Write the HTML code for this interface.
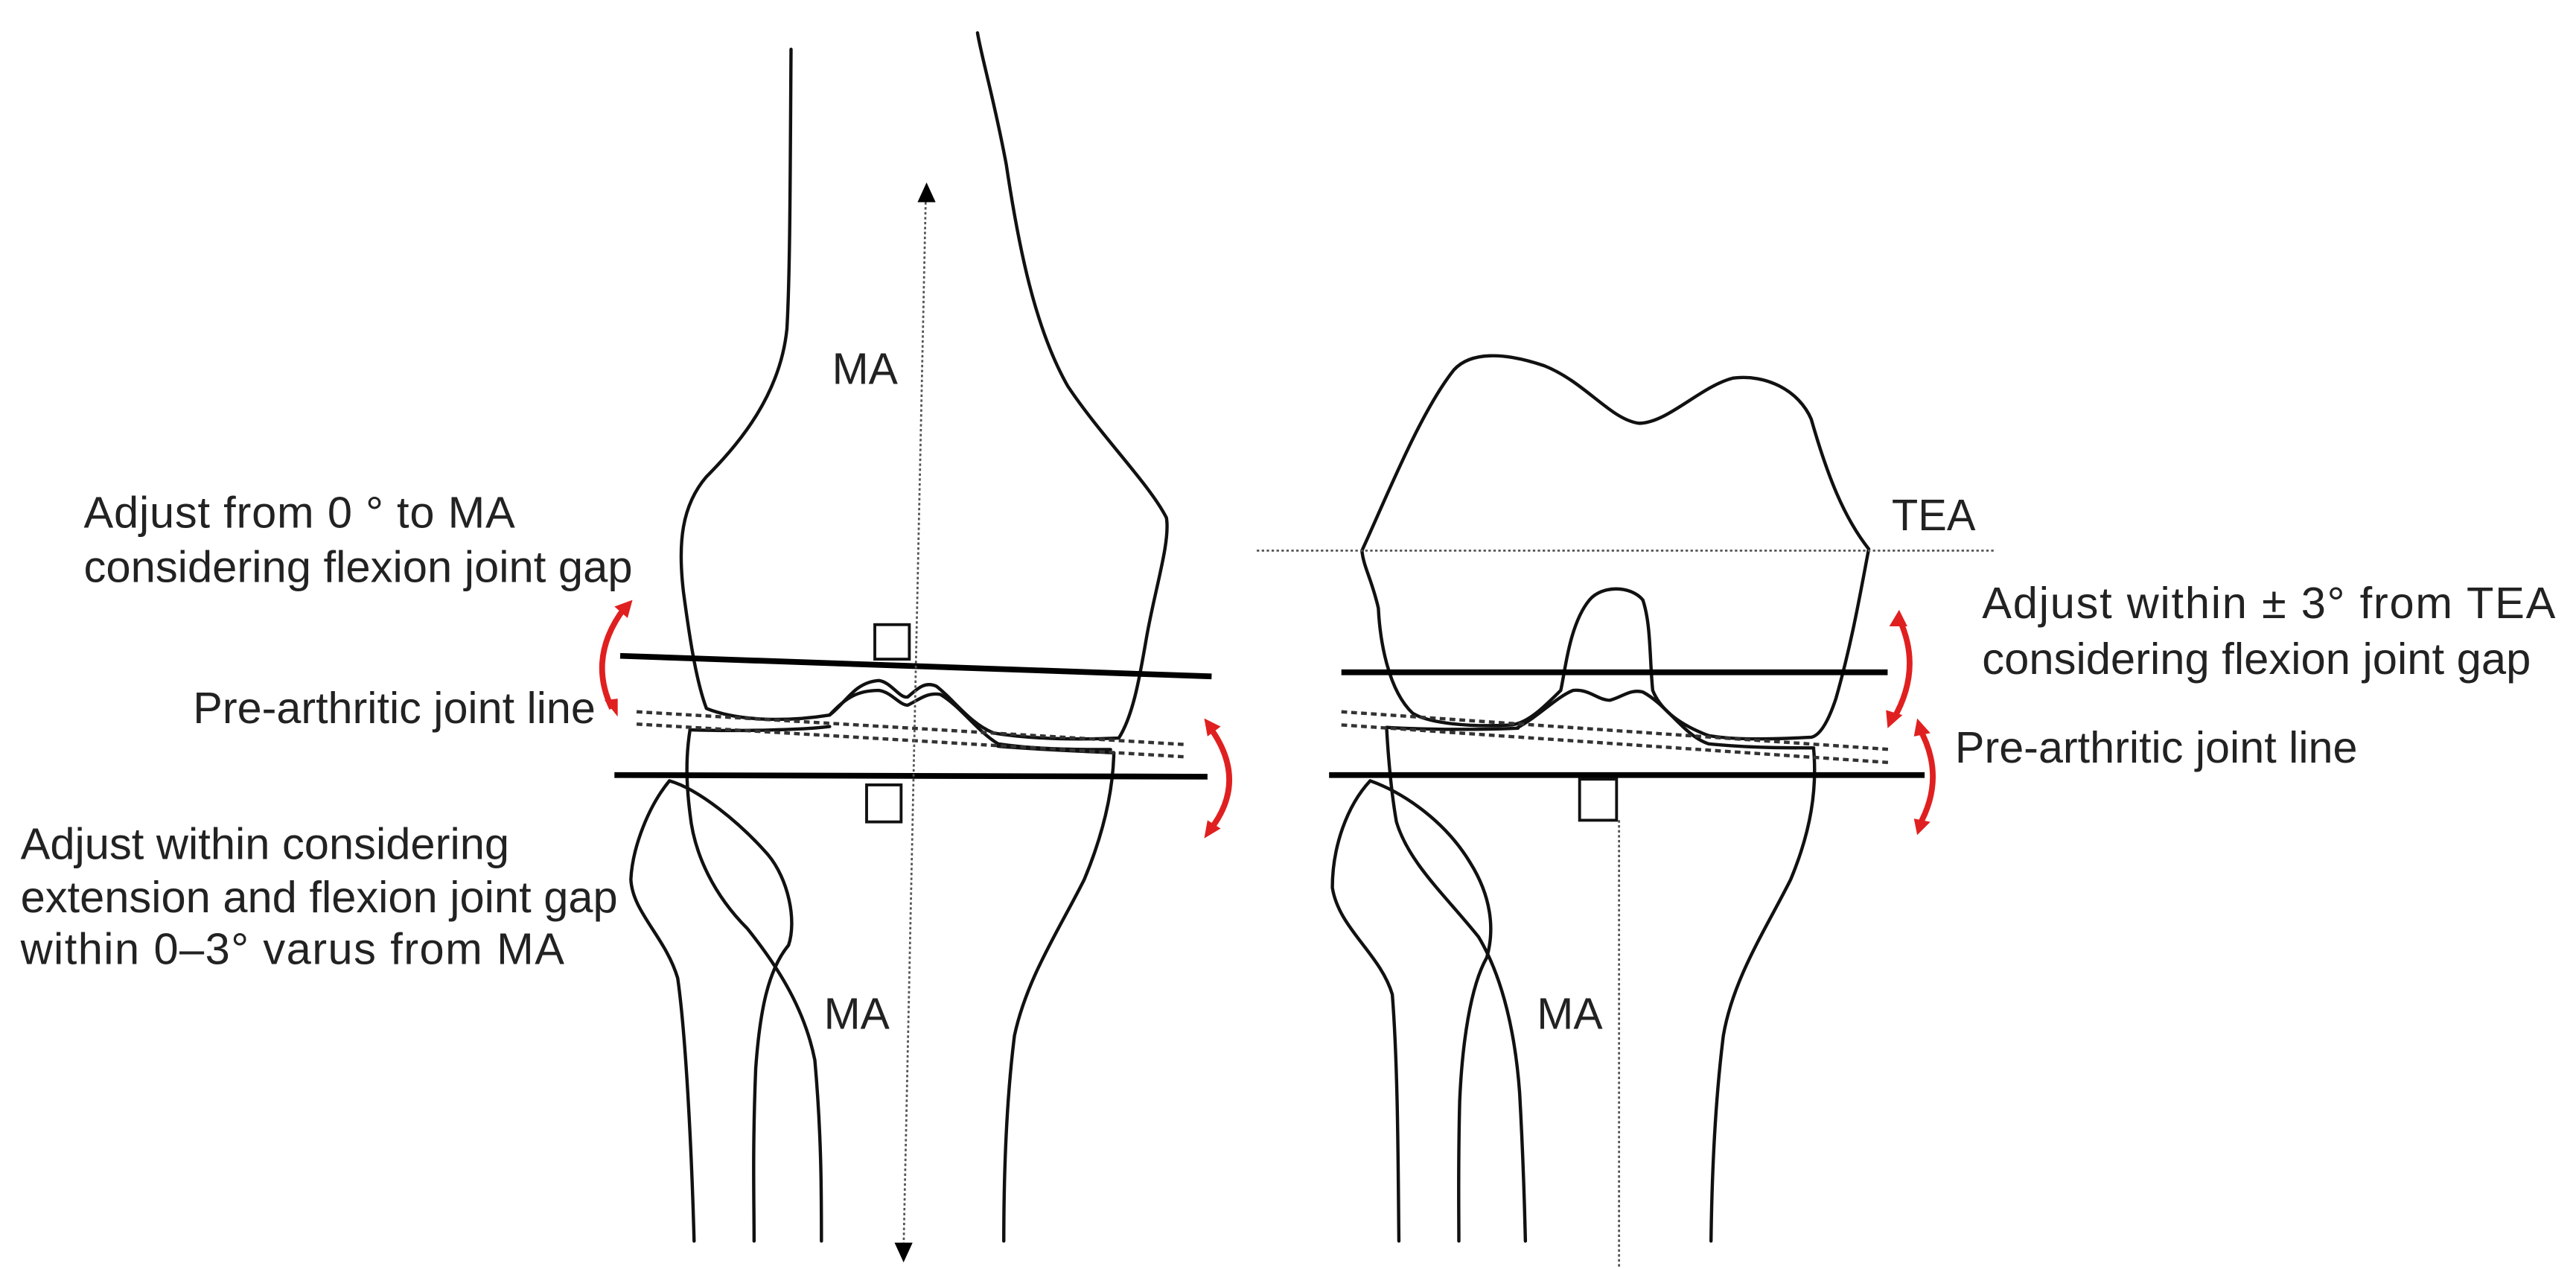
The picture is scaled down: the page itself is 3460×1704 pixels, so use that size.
<!DOCTYPE html>
<html><head><meta charset="utf-8"><style>html,body{margin:0;padding:0;background:#fff}svg{display:block}</style></head>
<body>
<svg width="3460" height="1704" viewBox="0 0 3136 1544" preserveAspectRatio="none" xmlns="http://www.w3.org/2000/svg">
<rect width="3136" height="1544" fill="#fff"/>
<g fill="none" stroke="#111" stroke-width="4" stroke-linejoin="round" stroke-linecap="round">
<!-- LEFT FIGURE femur -->
<path d="M963,60 C962,200 962,330 958,400 C950,480 900,540 860,580 C830,615 825,660 832,720 C840,780 848,830 860,862 C900,878 960,878 1010,870 C1030,855 1040,830 1070,828 C1085,830 1095,850 1105,848 C1115,840 1125,828 1140,835 C1160,850 1180,880 1210,892 C1260,900 1320,900 1362,898 C1380,870 1388,820 1395,780 C1405,720 1425,660 1420,630 C1400,590 1340,530 1300,470 C1260,400 1240,300 1225,200 C1210,120 1195,70 1190,40"/>
<path d="M1010,870 C1030,848 1045,840 1070,840 C1085,842 1095,858 1105,858 C1118,852 1128,842 1145,845 C1170,860 1190,890 1215,905 C1260,912 1320,912 1352,912"/>
<!-- tibia -->
<path d="M840,888 C900,890 980,888 1010,884 M1215,908 C1260,912 1320,914 1356,916"/>
<path d="M840,888 C835,920 835,950 840,990 C845,1040 870,1090 910,1130 C950,1180 980,1230 992,1290 C1000,1380 1000,1450 1000,1510"/>
<path d="M1356,916 C1355,960 1345,1010 1320,1070 C1290,1130 1250,1190 1235,1260 C1225,1340 1222,1430 1222,1510"/>
<!-- fibula -->
<path d="M815,950 C790,980 770,1030 768,1070 C770,1110 810,1140 825,1190 C835,1260 842,1400 845,1510"/>
<path d="M815,950 C850,960 900,1000 935,1040 C960,1070 970,1120 960,1150 C935,1180 925,1230 920,1300 C916,1400 918,1460 918,1510"/>
<!-- RIGHT FIGURE femur -->
<path d="M1658,670 C1690,600 1730,500 1770,450 C1790,428 1830,428 1880,445 C1930,465 1960,510 1995,515 C2030,515 2070,470 2110,460 C2150,455 2190,475 2205,510 C2225,580 2245,630 2275,668 C2265,720 2255,780 2235,850 C2225,880 2215,895 2205,897 C2150,900 2110,900 2080,895 C2040,880 2020,860 2012,840 C2008,800 2010,760 2000,730 C1985,712 1950,712 1935,730 C1910,760 1905,820 1900,840 C1880,860 1860,880 1840,882 C1790,885 1740,880 1720,868 C1690,840 1680,780 1678,740 C1670,705 1660,690 1658,670"/>
<path d="M1848,885 C1875,870 1895,848 1915,840 C1935,838 1945,852 1960,852 C1975,848 1985,838 2000,842 C2030,858 2050,895 2080,905 C2130,910 2180,910 2208,910"/>
<!-- tibia right -->
<path d="M1688,885 C1740,888 1800,888 1848,886"/>
<path d="M1688,885 C1690,920 1693,960 1700,1000 C1715,1050 1760,1090 1800,1140 C1830,1190 1845,1260 1850,1330 C1855,1420 1856,1470 1857,1510"/>
<path d="M2208,912 C2212,960 2205,1010 2180,1070 C2150,1130 2110,1190 2098,1260 C2088,1340 2084,1430 2083,1510"/>
<path d="M1668,950 C1640,980 1622,1030 1622,1080 C1630,1130 1680,1160 1695,1210 C1702,1300 1702,1420 1703,1510"/>
<path d="M1668,950 C1710,965 1760,1000 1790,1050 C1815,1090 1820,1130 1810,1165 C1790,1200 1780,1270 1777,1340 C1775,1420 1776,1470 1776,1510"/>
</g>
<g stroke="#000" stroke-width="7" stroke-linecap="butt">
<line x1="755" y1="798" x2="1475" y2="823"/>
<line x1="748" y1="943" x2="1470" y2="945"/>
<line x1="1633" y1="818" x2="2298" y2="818"/>
<line x1="1618" y1="943" x2="2343" y2="943"/>
</g>
<g stroke="#333" stroke-width="4" stroke-dasharray="7 5" fill="none">
<line x1="775" y1="866" x2="1445" y2="906"/>
<line x1="775" y1="881" x2="1445" y2="921"/>
<line x1="1633" y1="866" x2="2303" y2="912"/>
<line x1="1633" y1="882" x2="2303" y2="928"/>
</g>
<g stroke="#555" stroke-width="2.5" stroke-dasharray="3 3" fill="none">
<line x1="1127" y1="240" x2="1100" y2="1520"/>
<line x1="1530" y1="670" x2="2430" y2="670"/>
<line x1="1971" y1="998" x2="1971" y2="1544"/>
</g>
<path d="M1117,246 L1128,222 L1139,246z" fill="#000"/>
<path d="M1089,1512 L1100,1536 L1111,1512z" fill="#000"/>
<g fill="none" stroke="#111" stroke-width="3.5">
<rect x="1065" y="760" width="42" height="42"/>
<rect x="1055" y="955" width="42" height="45"/>
<rect x="1923" y="948" width="45" height="50"/>
</g>
<g stroke="#e02020" stroke-width="7" fill="none">
<path d="M760,740 Q715,800 745,862"/>
<path d="M1473,885 Q1520,950 1473,1010"/>
<path d="M2313,755 Q2340,815 2305,875"/>
<path d="M2336,885 Q2370,945 2336,1005"/>
</g>
<g fill="#e02020">
<path d="M770,730 L748,738 L764,752z"/>
<path d="M752,872 L736,852 L752,850z"/>
<path d="M1466,874 L1486,884 L1470,896z"/>
<path d="M1466,1020 L1486,1008 L1470,998z"/>
<path d="M2312,742 L2300,762 L2322,762z"/>
<path d="M2298,886 L2296,864 L2316,870z"/>
<path d="M2334,874 L2330,896 L2350,892z"/>
<path d="M2334,1016 L2330,996 L2350,1000z"/>
</g>
<g font-family="'Liberation Sans', sans-serif" font-size="54" fill="#222" lengthAdjust="spacingAndGlyphs">
<text x="1013" y="467" textLength="80" lengthAdjust="spacingAndGlyphs">MA</text>
<text x="1003" y="1252" textLength="80" lengthAdjust="spacingAndGlyphs">MA</text>
<text x="102" y="642" textLength="525">Adjust from 0 °   to MA</text>
<text x="102" y="708" textLength="668" lengthAdjust="spacingAndGlyphs">considering flexion joint gap</text>
<text x="235" y="880" textLength="490" lengthAdjust="spacingAndGlyphs">Pre-arthritic joint line</text>
<text x="25" y="1045" textLength="595" lengthAdjust="spacingAndGlyphs">Adjust within considering</text>
<text x="25" y="1110" textLength="727" lengthAdjust="spacingAndGlyphs">extension and flexion joint gap</text>
<text x="25" y="1173" textLength="662">within 0–3°    varus from MA</text>
<text x="1871" y="1252" textLength="80" lengthAdjust="spacingAndGlyphs">MA</text>
<text x="2303" y="645" textLength="102" lengthAdjust="spacingAndGlyphs">TEA</text>
<text x="2413" y="752" textLength="698">Adjust within ± 3°   from TEA</text>
<text x="2413" y="820" textLength="668" lengthAdjust="spacingAndGlyphs">considering flexion joint gap</text>
<text x="2380" y="928" textLength="490" lengthAdjust="spacingAndGlyphs">Pre-arthritic joint line</text>
</g>
</svg>
</body></html>
